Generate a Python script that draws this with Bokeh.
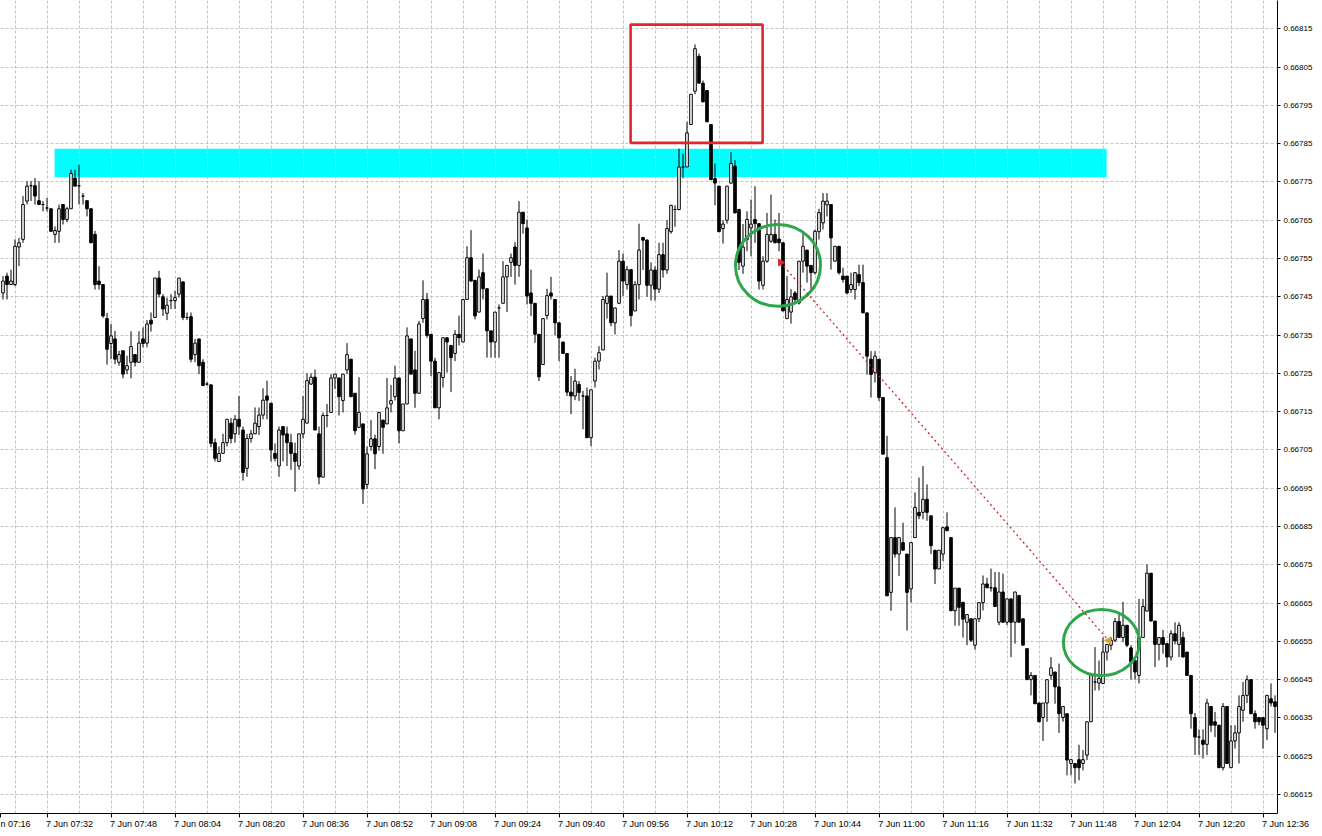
from bokeh.plotting import figure
from bokeh.models import Range1d, FixedTicker, PrintfTickFormatter, ColumnDataSource, AllLabels
from bokeh.embed import file_html
from bokeh.resources import INLINE
import math

# ---------------- data (prices in points: price = 0.66 + value * 0.00001) -------------
# one M1 bar per entry, first bar = 7 Jun 07:21, last bar = 7 Jun 12:39
OPEN_PTS = [
    746.0, 750.4, 748.2, 748.2, 758.0, 760.0, 770.0, 774.0, 774.0, 770.1,
    769.1, 768.2, 768.0, 761.3, 762.1, 769.1, 765.2, 768.0, 776.0, 774.0,
    771.3, 770.1, 768.0, 761.3, 749.1, 748.2, 739.3, 732.8, 734.0, 727.9,
    730.9, 725.9, 727.9, 729.9, 727.9, 734.0, 732.9, 738.9, 739.6, 749.9,
    745.0, 740.7, 744.0, 744.0, 745.7, 748.9, 739.6, 739.8, 729.9, 734.0,
    727.9, 722.2, 722.0, 706.9, 702.0, 704.1, 706.9, 712.0, 709.2, 713.0,
    710.2, 700.2, 708.0, 709.2, 711.1, 714.1, 719.1, 717.2, 704.1, 700.8,
    711.1, 709.2, 706.9, 704.1, 700.8, 709.2, 712.0, 722.2, 724.0, 709.2,
    697.9, 714.0, 714.8, 723.8, 723.8, 717.9, 725.9, 728.7, 719.8, 710.9,
    711.8, 696.0, 705.9, 707.9, 705.9, 712.8, 711.8, 717.0, 718.9, 723.8,
    710.0, 717.0, 734.0, 725.9, 719.8, 739.3, 744.3, 735.2, 728.2, 716.0,
    723.9, 734.3, 732.3, 730.2, 735.2, 733.2, 744.3, 755.2, 749.3, 741.0,
    751.3, 747.1, 736.1, 733.2, 742.1, 743.3, 750.2, 754.0, 758.0, 753.2,
    767.1, 763.0, 746.0, 743.3, 735.2, 727.3, 740.1, 746.0, 744.3, 738.2,
    733.2, 730.2, 720.1, 719.1, 722.1, 719.1, 719.1, 708.2, 723.0, 728.2,
    731.1, 743.3, 745.2, 738.2, 743.3, 754.3, 748.2, 752.1, 741.3, 748.2,
    760.5, 759.8, 748.0, 752.0, 747.0, 756.0, 752.0, 762.0, 767.8, 767.8,
    778.9, 778.9, 790.0, 798.7, 807.8, 800.8, 798.9, 790.0, 775.9, 773.9,
    762.8, 765.0, 774.7, 779.1, 767.8, 753.0, 760.0, 763.0, 765.2, 764.1,
    748.0, 754.3, 759.5, 761.3, 760.1, 759.1, 739.3, 741.0, 746.0, 743.4,
    754.3, 757.2, 753.2, 751.3, 762.0, 764.3, 769.0, 769.1, 754.3, 758.2,
    750.4, 750.4, 746.9, 746.9, 750.8, 748.7, 740.8, 728.7, 725.2, 728.7,
    718.7, 703.0, 667.8, 682.1, 677.8, 680.8, 677.8, 668.7, 682.1, 688.7,
    688.7, 692.1, 687.8, 678.8, 673.9, 677.8, 684.9, 682.1, 663.0, 668.9,
    665.2, 660.0, 660.9, 654.0, 660.9, 665.1, 670.0, 669.0, 669.0, 660.0,
    667.9, 660.0, 666.1, 660.0, 667.0, 660.9, 653.1, 645.0, 646.1, 638.9,
    635.1, 638.9, 646.1, 647.0, 643.1, 635.1, 636.1, 623.1, 623.1, 624.1,
    623.1, 625.3, 634.0, 644.4, 644.1, 644.0, 652.2, 654.0, 655.3, 660.2,
    656.0, 659.2, 653.3, 650.0, 646.1, 656.0, 662.9, 672.8, 660.3, 654.2,
    656.0, 654.4, 650.9, 657.0, 654.2, 656.0, 652.2, 646.1, 635.1, 630.0,
    629.2, 628.1, 638.0, 634.0, 633.1, 622.0, 638.0, 622.0, 629.0, 631.1,
    637.0, 640.9, 645.0, 636.1, 635.1, 635.1, 632.2, 640.0, 639.2,
]
HIGH_PTS = [
    750.4, 751.3, 752.1, 760.0, 760.4, 771.3, 775.2, 775.2, 776.0, 775.2,
    770.0, 770.8, 768.0, 763.4, 769.1, 769.1, 768.5, 778.2, 778.2, 779.5,
    772.1, 770.1, 768.0, 762.2, 753.0, 748.2, 740.8, 737.9, 736.1, 730.9,
    730.9, 729.6, 736.0, 729.9, 736.0, 737.0, 738.9, 740.9, 749.9, 751.8,
    745.7, 744.8, 745.7, 746.6, 749.9, 748.9, 740.9, 740.9, 734.0, 734.0,
    728.7, 722.7, 722.0, 708.0, 705.9, 709.2, 713.0, 713.3, 714.1, 719.1,
    711.1, 709.2, 710.2, 716.1, 716.1, 721.1, 723.1, 717.2, 706.7, 711.1,
    711.1, 711.1, 709.2, 706.9, 709.2, 719.1, 725.0, 725.0, 726.0, 711.1,
    714.8, 717.0, 724.8, 724.8, 723.8, 724.8, 732.9, 728.7, 719.8, 724.0,
    711.8, 705.9, 712.8, 709.0, 714.8, 712.8, 723.8, 722.0, 727.0, 723.8,
    717.0, 737.0, 734.0, 730.9, 738.7, 749.3, 746.0, 735.2, 729.1, 725.2,
    734.3, 734.3, 732.3, 736.3, 740.1, 744.3, 758.2, 762.4, 749.3, 752.1,
    756.3, 747.1, 736.1, 741.0, 743.0, 754.3, 753.2, 756.3, 759.3, 770.0,
    767.1, 765.2, 752.1, 743.3, 735.2, 739.3, 747.1, 750.2, 744.3, 738.2,
    733.2, 730.2, 724.3, 726.2, 723.0, 720.4, 721.3, 720.7, 729.1, 732.1,
    745.2, 751.3, 745.2, 742.1, 757.2, 756.3, 753.0, 752.1, 749.1, 764.1,
    760.5, 760.0, 754.0, 753.0, 759.1, 759.1, 765.0, 768.9, 768.9, 783.7,
    782.4, 790.7, 797.9, 810.9, 808.5, 801.5, 798.9, 790.0, 779.8, 773.9,
    765.0, 773.9, 782.8, 780.7, 768.0, 764.0, 767.3, 770.4, 773.9, 764.1,
    755.6, 766.9, 771.7, 765.2, 766.9, 759.1, 750.4, 747.0, 746.5, 754.3,
    762.1, 757.2, 753.2, 762.6, 768.0, 772.1, 772.1, 769.1, 758.2, 758.2,
    752.6, 750.4, 751.3, 751.3, 753.4, 753.4, 740.8, 730.8, 730.8, 728.7,
    718.7, 708.7, 682.1, 690.0, 682.1, 686.0, 677.8, 680.8, 693.9, 697.8,
    700.8, 696.0, 687.8, 678.8, 678.8, 684.7, 688.7, 682.1, 668.9, 668.9,
    665.2, 662.0, 660.9, 660.9, 665.1, 672.2, 671.6, 674.0, 673.1, 673.1,
    672.7, 666.1, 666.1, 667.9, 667.0, 660.9, 653.1, 647.0, 646.1, 638.9,
    638.9, 645.0, 650.9, 647.0, 649.2, 638.0, 636.1, 624.1, 623.1, 628.0,
    626.6, 634.0, 646.1, 653.5, 650.0, 656.0, 654.2, 656.1, 661.1, 662.7,
    665.3, 659.2, 654.0, 650.0, 666.1, 666.1, 675.1, 672.8, 660.3, 656.0,
    658.0, 654.4, 657.9, 660.0, 660.0, 657.5, 652.2, 646.1, 636.3, 632.0,
    632.0, 640.0, 638.0, 636.6, 633.1, 638.9, 638.0, 633.1, 633.1, 640.9,
    644.4, 646.1, 645.0, 637.0, 635.1, 635.1, 640.9, 644.0, 640.9,
]
LOW_PTS = [
    744.3, 744.3, 748.2, 747.8, 753.0, 759.1, 769.1, 770.0, 769.1, 769.1,
    767.3, 767.3, 762.1, 759.1, 759.1, 763.9, 764.5, 768.0, 773.9, 769.1,
    769.1, 766.0, 759.1, 746.9, 746.9, 739.5, 727.3, 728.7, 727.4, 727.0,
    723.7, 724.8, 723.7, 726.8, 727.9, 731.8, 731.8, 735.9, 739.6, 744.8,
    740.0, 738.9, 741.8, 741.8, 744.8, 738.9, 738.9, 727.9, 727.9, 724.8,
    721.8, 721.8, 705.7, 702.0, 702.0, 704.1, 705.9, 706.7, 706.9, 708.9,
    697.0, 698.0, 706.9, 709.2, 708.9, 713.0, 713.0, 702.0, 702.0, 698.0,
    702.0, 700.8, 699.8, 694.1, 699.8, 708.0, 712.0, 722.0, 710.2, 696.0,
    697.9, 710.9, 714.8, 720.9, 714.0, 714.8, 724.8, 718.9, 709.0, 710.9,
    690.9, 694.8, 704.8, 700.0, 704.8, 704.0, 711.8, 714.8, 717.9, 706.7,
    710.0, 717.0, 724.8, 716.0, 719.8, 738.2, 734.3, 724.3, 716.0, 713.0,
    721.3, 725.2, 720.1, 728.2, 732.3, 733.2, 744.3, 749.1, 739.1, 741.0,
    744.3, 729.1, 729.1, 729.1, 729.1, 743.3, 741.0, 750.2, 748.2, 750.2,
    761.5, 743.0, 740.0, 733.0, 723.0, 727.3, 739.1, 744.3, 734.9, 728.2,
    730.2, 719.1, 714.3, 718.0, 717.8, 710.4, 708.2, 706.0, 721.3, 726.0,
    731.1, 739.3, 737.3, 735.2, 743.3, 745.2, 746.9, 737.3, 741.3, 744.3,
    752.0, 745.0, 744.0, 744.0, 746.0, 750.0, 751.0, 761.5, 763.3, 767.6,
    775.9, 778.9, 790.0, 797.9, 800.8, 795.9, 790.7, 775.6, 768.9, 762.0,
    758.9, 764.1, 774.6, 766.9, 752.0, 751.0, 756.9, 755.6, 759.1, 746.9,
    746.9, 753.9, 759.1, 759.1, 756.9, 741.3, 739.3, 738.0, 743.4, 743.0,
    751.3, 748.7, 746.9, 750.8, 760.0, 762.6, 766.0, 752.1, 754.3, 750.8,
    748.7, 745.6, 746.0, 744.3, 747.8, 740.8, 724.7, 718.7, 722.6, 717.8,
    703.9, 666.9, 663.0, 676.9, 672.1, 678.8, 657.8, 665.2, 682.1, 686.9,
    686.9, 686.5, 677.8, 670.0, 673.9, 676.0, 683.9, 663.0, 659.1, 659.1,
    656.0, 654.0, 654.8, 652.8, 660.0, 663.1, 669.0, 668.0, 664.1, 659.2,
    660.0, 659.2, 650.9, 654.4, 660.0, 654.0, 645.0, 640.9, 638.7, 634.0,
    629.0, 634.0, 645.0, 638.7, 631.1, 634.0, 620.0, 620.0, 617.9, 618.7,
    621.3, 624.0, 634.0, 642.2, 642.2, 644.0, 650.0, 652.7, 654.8, 656.0,
    654.8, 653.5, 645.0, 645.0, 644.0, 656.0, 662.9, 660.3, 648.3, 650.0,
    651.8, 648.3, 650.0, 654.2, 650.9, 650.9, 646.1, 632.2, 625.3, 625.3,
    624.4, 625.3, 631.3, 630.0, 622.0, 621.3, 623.1, 622.0, 627.0, 623.1,
    634.0, 638.9, 636.1, 632.2, 633.1, 627.0, 629.2, 638.0, 631.1,
]
CLOSE_PTS = [
    749.1, 748.2, 749.1, 758.2, 759.1, 769.1, 773.9, 774.0, 771.3, 769.1,
    769.1, 768.2, 762.1, 762.3, 768.0, 765.2, 768.0, 777.2, 773.9, 774.0,
    771.3, 768.0, 759.1, 748.2, 748.2, 740.0, 731.3, 734.8, 728.7, 729.9,
    724.8, 727.0, 732.0, 727.9, 732.9, 732.8, 737.9, 737.9, 749.9, 745.7,
    741.8, 742.8, 744.0, 744.8, 749.9, 739.6, 739.6, 728.7, 732.9, 727.0,
    721.8, 722.2, 706.7, 702.8, 704.1, 706.9, 713.0, 708.0, 713.0, 711.1,
    699.1, 708.0, 709.2, 712.0, 714.1, 718.0, 718.0, 705.0, 702.8, 710.2,
    708.9, 706.9, 704.1, 702.0, 709.2, 713.0, 723.1, 724.0, 710.2, 697.9,
    714.0, 714.0, 723.8, 724.8, 718.9, 724.8, 729.9, 718.9, 710.0, 714.8,
    694.8, 704.0, 707.9, 704.0, 714.8, 710.9, 716.0, 717.9, 723.8, 710.0,
    717.0, 734.8, 724.8, 719.8, 737.9, 744.3, 734.9, 728.2, 716.0, 725.2,
    734.3, 733.2, 729.1, 735.2, 734.3, 744.3, 755.2, 749.1, 740.0, 750.2,
    747.1, 736.1, 733.2, 741.0, 742.1, 750.2, 753.2, 755.2, 753.2, 767.1,
    764.1, 745.2, 743.3, 735.2, 724.1, 739.3, 745.3, 745.2, 738.2, 734.3,
    730.2, 720.1, 719.1, 723.0, 720.0, 719.1, 708.2, 720.7, 728.2, 730.4,
    744.3, 745.2, 738.2, 742.1, 754.3, 749.1, 752.1, 740.1, 748.2, 757.2,
    759.8, 748.0, 752.0, 747.0, 756.0, 752.0, 762.8, 768.9, 767.8, 778.9,
    778.9, 787.8, 797.9, 809.8, 800.8, 795.9, 790.7, 775.6, 774.7, 762.0,
    764.0, 773.9, 779.8, 766.9, 754.0, 758.0, 765.2, 764.0, 764.1, 749.1,
    754.3, 761.3, 761.3, 759.1, 759.1, 741.3, 744.3, 745.0, 744.3, 754.3,
    758.2, 753.0, 751.3, 762.1, 767.0, 770.0, 770.0, 760.4, 758.2, 751.3,
    749.5, 746.0, 748.2, 751.3, 748.7, 740.8, 729.5, 724.7, 729.5, 718.7,
    703.9, 666.9, 682.1, 677.8, 682.1, 678.8, 667.8, 680.8, 690.0, 687.8,
    692.1, 688.7, 680.0, 673.9, 678.8, 684.7, 683.9, 663.0, 668.9, 663.9,
    660.8, 662.0, 655.3, 660.9, 665.1, 670.0, 669.0, 669.0, 664.1, 667.9,
    660.0, 666.1, 660.0, 667.9, 660.0, 654.0, 645.0, 646.1, 638.7, 634.0,
    638.9, 645.0, 648.1, 643.1, 636.1, 638.0, 624.0, 624.1, 622.0, 622.0,
    624.1, 634.0, 646.1, 644.4, 645.3, 652.2, 654.2, 655.3, 660.2, 656.0,
    659.2, 654.0, 649.6, 647.0, 656.0, 664.1, 672.8, 660.3, 654.2, 656.0,
    654.2, 650.9, 657.0, 655.1, 659.2, 650.9, 646.1, 636.1, 630.0, 630.0,
    628.1, 638.9, 633.1, 633.1, 622.0, 638.0, 623.1, 629.0, 631.1, 638.0,
    640.9, 645.0, 636.1, 634.0, 634.0, 633.1, 640.9, 638.9, 638.0,
]

TIME_TICK_BARS = [-5, 11, 27, 43, 59, 75, 91, 107, 123, 139, 155,
                  171, 187, 203, 219, 235, 251, 267, 283, 299, 315]
TIME_TICK_LABELS = ["7 Jun 07:16", "7 Jun 07:32", "7 Jun 07:48", "7 Jun 08:04",
                    "7 Jun 08:20", "7 Jun 08:36", "7 Jun 08:52", "7 Jun 09:08",
                    "7 Jun 09:24", "7 Jun 09:40", "7 Jun 09:56", "7 Jun 10:12",
                    "7 Jun 10:28", "7 Jun 10:44", "7 Jun 11:00", "7 Jun 11:16",
                    "7 Jun 11:32", "7 Jun 11:48", "7 Jun 12:04", "7 Jun 12:20",
                    "7 Jun 12:36"]
PRICE_TICKS = [0.66615, 0.66625, 0.66635, 0.66645, 0.66655, 0.66665, 0.66675,
               0.66685, 0.66695, 0.66705, 0.66715, 0.66725, 0.66735, 0.66745,
               0.66755, 0.66765, 0.66775, 0.66785, 0.66795, 0.66805, 0.66815]

# drawn objects (bar index, price)
ZONE_BARS = (12.9, 275.9)
ZONE_PRICES = (0.667763, 0.667837)
BOX_BARS = (156.9, 189.9)
BOX_PRICES = (0.667852, 0.668161)
ELLIPSE_X = [193.75, 274.6]
ELLIPSE_Y = [0.667532, 0.666547]
ELLIPSE_W = [21.25, 19.0]
ELLIPSE_H = [0.000214, 0.000172]
TRADE_BARS = [194.4, 276.4]
TRADE_PRICES = [0.6675396, 0.6665520]

# ---------------- build ----------------
BASE = 0.66
PT = 1e-5
n = len(OPEN_PTS)
assert n == len(HIGH_PTS) == len(LOW_PTS) == len(CLOSE_PTS)
bars = list(range(n))
o = [BASE + v * PT for v in OPEN_PTS]
h = [BASE + v * PT for v in HIGH_PTS]
l = [BASE + v * PT for v in LOW_PTS]
c = [BASE + v * PT for v in CLOSE_PTS]

up = [i for i in bars if c[i] >= o[i]]
dn = [i for i in bars if c[i] < o[i]]

X_START, X_END = -0.625, 318.625
p = figure(frame_width=1277, frame_height=813,
           x_range=Range1d(X_START, X_END), y_range=Range1d(0.6661004, 0.6682239),
           output_backend="svg", toolbar_location=None,
           x_axis_location="below", y_axis_location="right",
           min_border_left=0, min_border_top=0, min_border_right=37, min_border_bottom=15,
           background_fill_color="white", border_fill_color="white",
           outline_line_color=None)

# grid
p.xgrid.ticker = FixedTicker(ticks=list(range(3, 330, 8)))
p.ygrid.ticker = FixedTicker(ticks=PRICE_TICKS)
for g in (p.xgrid, p.ygrid):
    g.grid_line_color = "#c4c4c4"
    g.grid_line_dash = "3 2"
    g.grid_line_width = 1

# x axis: tick at the time, text starting at the tick (padded with no-break spaces)
NB = "\u00a0"
PAD = NB * 18
ticks, overrides = [], {}
for b, t in zip(TIME_TICK_BARS, TIME_TICK_LABELS):
    if b < X_START:
        # the first label starts left of the window, so only its tail is visible there
        ticks.append(X_START)
        overrides[X_START] = t[t.index("n "):]
    else:
        ticks.append(b)
        overrides[b] = PAD + t
p.xaxis.ticker = FixedTicker(ticks=ticks)
p.xaxis.major_label_overrides = overrides
p.xaxis.major_label_policy = AllLabels()
p.xaxis.major_label_text_font = "Liberation Sans"
p.xaxis.major_label_text_font_size = "9px"
p.xaxis.major_label_text_color = "black"
p.xaxis.major_label_standoff = 1
p.xaxis.major_tick_out = 4
p.xaxis.major_tick_in = 0
p.xaxis.minor_tick_out = 0
p.xaxis.minor_tick_in = 0
p.xaxis.axis_line_color = "black"
p.xaxis.major_tick_line_color = "black"

p.yaxis.ticker = FixedTicker(ticks=PRICE_TICKS)
p.yaxis.formatter = PrintfTickFormatter(format="%.5f")
p.yaxis.major_tick_out = 3
p.yaxis.major_tick_in = 0
p.yaxis.minor_tick_out = 0
p.yaxis.minor_tick_in = 0
p.yaxis.major_label_standoff = 3
p.yaxis.major_label_text_font = "Liberation Sans"
p.yaxis.major_label_text_font_size = "8px"
p.yaxis.major_label_text_color = "black"
p.yaxis.axis_line_color = "black"
p.yaxis.major_tick_line_color = "black"

# support/resistance zone (background object)
p.quad(left=[ZONE_BARS[0]], right=[ZONE_BARS[1]], bottom=[ZONE_PRICES[0]], top=[ZONE_PRICES[1]],
       fill_color="#00FFFF", line_color=None, level="underlay")

# wicks
p.segment(x0=bars, y0=h, x1=bars, y1=l, line_color="black", line_width=1)

# bodies
BODY_W = 0.65
src_up = ColumnDataSource(dict(x=up, top=[c[i] for i in up], bottom=[o[i] for i in up]))
src_dn = ColumnDataSource(dict(x=dn, top=[o[i] for i in dn], bottom=[c[i] for i in dn]))
p.vbar(x="x", top="top", bottom="bottom", width=BODY_W, source=src_up,
       fill_color="white", line_color="black", line_width=1)
p.vbar(x="x", top="top", bottom="bottom", width=BODY_W, source=src_dn,
       fill_color="black", line_color="black", line_width=1)

# red box around the spike
p.quad(left=[BOX_BARS[0]], right=[BOX_BARS[1]], bottom=[BOX_PRICES[0]], top=[BOX_PRICES[1]],
       fill_color=None, line_color="#e3262b", line_width=2.6)

# green ellipses
p.ellipse(x=ELLIPSE_X, y=ELLIPSE_Y, width=ELLIPSE_W, height=ELLIPSE_H,
          fill_color=None, line_color="#2ea64c", line_width=3)

# trade line + markers
p.line(x=TRADE_BARS, y=TRADE_PRICES, line_color="#c0282d", line_width=1.3, line_dash="2 3")
p.scatter(x=[TRADE_BARS[0]], y=[TRADE_PRICES[0]], marker="triangle", angle=-math.pi / 2,
          size=7, fill_color="#e3262b", line_color="#e3262b")
p.scatter(x=[TRADE_BARS[1]], y=[TRADE_PRICES[1]], marker="triangle", angle=math.pi / 2,
          size=7, fill_color="#d7a437", line_color="#d7a437")

open("out.html", "w").write(file_html(p, INLINE))
